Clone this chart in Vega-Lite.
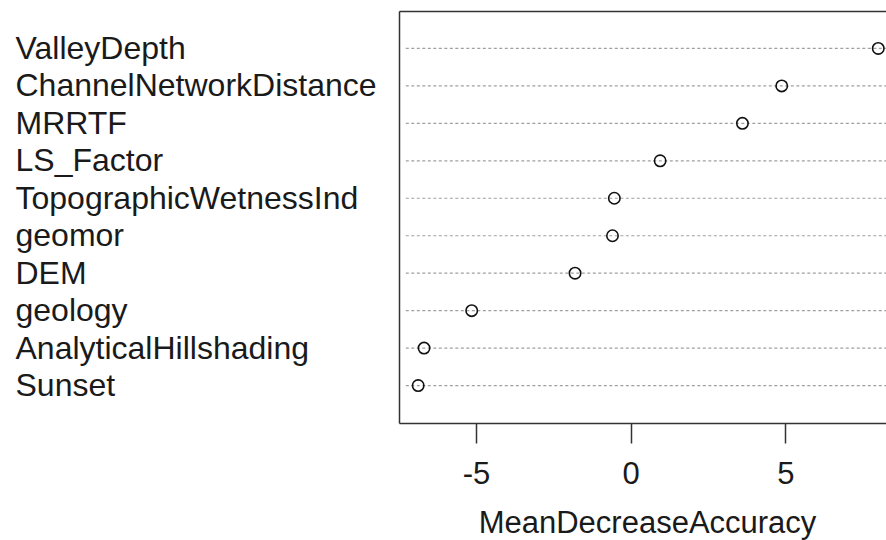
{
  "$schema": "https://vega.github.io/schema/vega-lite/v6.json",
  "width": 487,
  "height": 412,
  "autosize": {"type": "none"},
  "padding": {"left": 399, "top": 11, "right": 0, "bottom": 117},
  "background": "white",
  "config": {
    "view": {"stroke": null},
    "font": "Liberation Sans"
  },
  "data": {
    "values": [
      {"variable": "ValleyDepth", "value": 8.0},
      {"variable": "ChannelNetworkDistance", "value": 4.88},
      {"variable": "MRRTF", "value": 3.61},
      {"variable": "LS_Factor", "value": 0.95},
      {"variable": "TopographicWetnessInd", "value": -0.53},
      {"variable": "geomor", "value": -0.59},
      {"variable": "DEM", "value": -1.8},
      {"variable": "geology", "value": -5.14},
      {"variable": "AnalyticalHillshading", "value": -6.68},
      {"variable": "Sunset", "value": -6.87}
    ]
  },
  "layer": [
    {
      "mark": {"type": "rule", "color": "#a0a0a0", "strokeWidth": 1.2, "strokeDash": [3, 2.5]},
      "encoding": {
        "y": {
          "field": "variable",
          "type": "nominal",
          "sort": null,
          "scale": {"type": "point", "padding": 1},
          "axis": {
            "orient": "left",
            "title": null,
            "ticks": false,
            "labelAlign": "left",
            "labelPadding": 384,
            "labelFontSize": 32,
            "labelColor": "#1a1a1a",
            "labelBaseline": "middle",
            "labelLimit": 0,
            "domain": true,
            "domainColor": "#333",
            "domainWidth": 1.5,
            "grid": false
          }
        },
        "x": {
          "datum": -7.27,
          "type": "quantitative",
          "scale": {"domain": [-7.49, 8.25], "nice": false, "zero": false},
          "axis": {
            "orient": "bottom",
            "values": [-5, 0, 5],
            "labelExpr": "datum.value + ''",
            "grid": false,
            "title": "MeanDecreaseAccuracy",
            "titleFontSize": 31,
            "titleFontWeight": "normal",
            "titleColor": "#1a1a1a",
            "titleX": 248,
            "titleY": 109,
            "titleBaseline": "alphabetic",
            "titleAlign": "center",
            "tickSize": 20,
            "tickWidth": 1.5,
            "tickColor": "#333",
            "labelFontSize": 31,
            "labelColor": "#1a1a1a",
            "labelPadding": 16,
            "labelBaseline": "top",
            "domainColor": "#333",
            "domainWidth": 1.5
          }
        },
        "x2": {"datum": 8.25}
      }
    },
    {
      "mark": {"type": "point", "shape": "circle", "filled": false, "stroke": "#111", "strokeWidth": 1.6, "size": 130, "opacity": 1},
      "encoding": {
        "y": {"field": "variable", "type": "nominal", "sort": null},
        "x": {"field": "value", "type": "quantitative", "axis": null}
      }
    },
    {
      "mark": {"type": "point", "opacity": 0},
      "encoding": {
        "x": {
          "field": "value",
          "type": "quantitative",
          "axis": {
            "orient": "top",
            "labels": false,
            "ticks": false,
            "grid": false,
            "title": null,
            "domainColor": "#333",
            "domainWidth": 1.5
          }
        }
      }
    }
  ],
  "resolve": {"axis": {"x": "independent"}}
}
